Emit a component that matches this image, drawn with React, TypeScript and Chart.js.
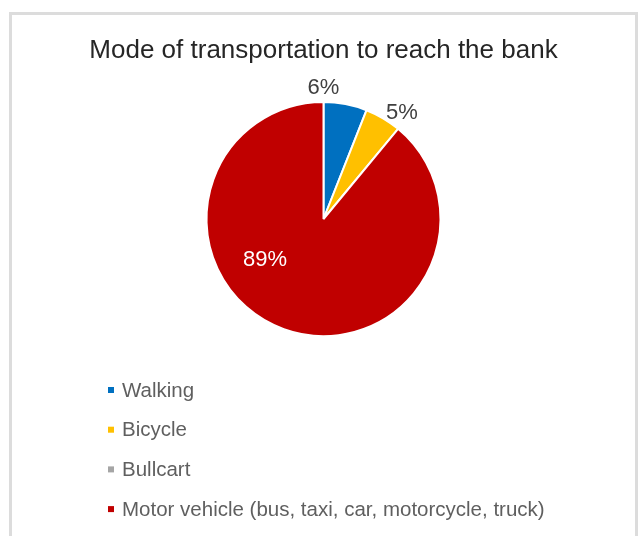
import React, { useEffect, useRef } from "react";
import { Chart, registerables } from "chart.js";

Chart.register(...registerables);

const categories = ["Walking", "Bicycle", "Bullcart", "Motor vehicle (bus, taxi, car, motorcycle, truck)"];
const shares = [6, 5, 0, 89];
const sliceColors = ["#0070C0", "#FFC000", "#A5A5A5", "#C00000"];
const titleText = "Mode of transportation to reach the bank";

const FONT = "'Liberation Sans', Arial, sans-serif";

// where each percentage label sits: fraction along the slice's angle, and distance in radii
const labelPlacement = [
  { frac: 0.0, dist: 1.12, color: "#404040" },
  { frac: 0.82, dist: 1.13, color: "#404040" },
  { frac: 0.5, dist: 1.12, color: "#404040" },
  { frac: 0.61, dist: 0.61, color: "#FFFFFF" },
];

const pctLabels = {
  id: "pctLabels",
  afterDatasetsDraw(chart: any) {
    const ctx = chart.ctx;
    const meta = chart.getDatasetMeta(0);
    const data = chart.data.datasets[0].data as number[];
    const total = data.reduce((a, b) => a + b, 0);
    ctx.save();
    ctx.font = `22px ${FONT}`;
    ctx.textAlign = "center";
    ctx.textBaseline = "middle";
    meta.data.forEach((arc: any, i: number) => {
      const v = data[i];
      if (!v) return;
      const p = labelPlacement[i];
      const { x, y, startAngle, endAngle, outerRadius } = arc.getProps(
        ["x", "y", "startAngle", "endAngle", "outerRadius"],
        true
      );
      const a = startAngle + (endAngle - startAngle) * p.frac;
      const r = outerRadius * p.dist;
      ctx.fillStyle = p.color;
      ctx.fillText(Math.round((v / total) * 100) + "%", x + Math.cos(a) * r, y + Math.sin(a) * r);
    });
    ctx.restore();
  },
};

const listLegend = {
  id: "listLegend",
  afterDraw(chart: any, _args: any, opts: any) {
    const ctx = chart.ctx;
    const labels = chart.data.labels as string[];
    const colors = chart.data.datasets[0].backgroundColor as string[];
    ctx.save();
    ctx.font = `20.5px ${FONT}`;
    ctx.textAlign = "left";
    ctx.textBaseline = "middle";
    labels.forEach((lab, i) => {
      const cy = opts.top + i * opts.spacing;
      ctx.fillStyle = colors[i];
      ctx.fillRect(opts.markerX - opts.marker / 2, cy - opts.marker / 2, opts.marker, opts.marker);
      ctx.fillStyle = "#5f5f5f";
      ctx.fillText(lab, opts.textX, cy + 1);
    });
    ctx.restore();
  },
};

export default function App() {
  const ref = useRef<HTMLCanvasElement>(null);
  useEffect(() => {
    if (!ref.current) return;
    const chart = new Chart(ref.current, {
      type: "pie",
      data: {
        labels: categories,
        datasets: [
          {
            data: shares,
            backgroundColor: sliceColors,
            borderColor: "#FFFFFF",
            borderWidth: 2,
          },
        ],
      },
      options: {
        animation: false,
        responsive: true,
        maintainAspectRatio: false,
        layout: { padding: { top: 0, bottom: 199, left: 0, right: 0 } },
        plugins: {
          legend: { display: false },
          tooltip: { enabled: false },
          title: {
            display: true,
            text: titleText,
            color: "#262626",
            font: { family: FONT, size: 26, weight: "normal" },
            padding: { top: 20, bottom: 34.8 },
          },
          listLegend: { top: 375, spacing: 39.7, markerX: 99, marker: 6, textX: 110 },
        } as any,
      },
      plugins: [pctLabels, listLegend],
    });
    return () => chart.destroy();
  }, []);

  return (
    <div
      style={{
        position: "absolute",
        left: 9,
        top: 12,
        width: 629,
        height: 540,
        boxSizing: "border-box",
        borderTop: "3px solid #dcdcdc",
        borderLeft: "3px solid #dcdcdc",
        borderRight: "3px solid #dcdcdc",
        background: "#ffffff",
      }}
    >
      <div style={{ position: "relative", width: 623, height: 521 }}>
        <canvas ref={ref} />
      </div>
    </div>
  );
}
